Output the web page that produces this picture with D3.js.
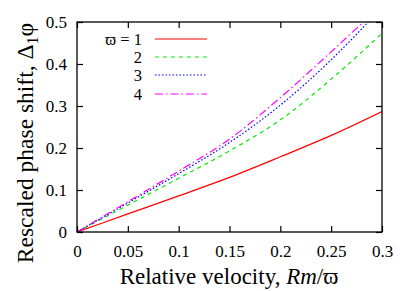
<!DOCTYPE html>
<html>
<head>
<meta charset="utf-8">
<script src="https://cdn.jsdelivr.net/npm/d3@7"></script>
<style>
  body { margin: 0; background: #fff; }
</style>
</head>
<body>
<svg class="svg" width="415" height="291"></svg>
<script>
// data
const velocity = [0, 0.05, 0.1, 0.15, 0.2, 0.25, 0.3];
const shift1 = [0, 0.043, 0.086, 0.130, 0.179, 0.230, 0.287];
const shift2 = [0, 0.064, 0.128, 0.193, 0.267, 0.364, 0.473];
const velocity3 = [0, 0.05, 0.1, 0.15, 0.2, 0.25, 0.2865];
const shift3 = [0, 0.069, 0.139, 0.213, 0.302, 0.410, 0.5];
const velocity4 = [0, 0.05, 0.1, 0.15, 0.2, 0.25, 0.2817];
const shift4 = [0, 0.072, 0.145, 0.221, 0.320, 0.429, 0.5];
const legendLabels = ["ϖ = 1", "2", "3", "4"];
const xTicks = [0, 0.05, 0.1, 0.15, 0.2, 0.25, 0.3];
const yTicks = [0, 0.1, 0.2, 0.3, 0.4, 0.5];

const FONT = "'Liberation Serif', 'Times New Roman', serif";

const svg = d3.select(".svg");
const mLeft = 77, mRight = 382, mTop = 22, mBottom = 232;

const x = d3.scaleLinear().domain([0, 0.3]).range([mLeft, mRight]);
const y = d3.scaleLinear().domain([0, 0.5]).range([mBottom, mTop]);

const series = [
  {xs: velocity, ys: shift1, color: "#ff0000", dash: null},
  {xs: velocity, ys: shift2, color: "#00ee00", dash: "4,4"},
  {xs: velocity3, ys: shift3, color: "#0000ff", dash: "1.5,2"},
  {xs: velocity4, ys: shift4, color: "#ff00ff", dash: "8,3,1.5,3"}
];

svg.append("clipPath").attr("id", "clip")
  .append("rect").attr("x", mLeft).attr("y", mTop).attr("width", mRight - mLeft).attr("height", mBottom - mTop);

const line = d3.line().x(d => x(d[0])).y(d => y(d[1])).curve(d3.curveMonotoneX);

series.forEach(s => {
  svg.append("path")
    .datum(s.xs.map((v, i) => [v, s.ys[i]]))
    .attr("d", line)
    .attr("fill", "none")
    .attr("stroke", s.color)
    .attr("stroke-width", 1.2)
    .attr("stroke-dasharray", s.dash)
    .attr("clip-path", "url(#clip)");
});

// axes, ticks inward and mirrored
const tickLen = 6;
const fmt = d => d === 0 ? "0" : String(d);

svg.append("g").attr("transform", `translate(0,${mBottom})`)
  .call(d3.axisBottom(x).tickValues(xTicks).tickSize(-tickLen).tickPadding(13).tickFormat(fmt));
svg.append("g").attr("transform", `translate(0,${mTop})`)
  .call(d3.axisTop(x).tickValues(xTicks).tickSize(-tickLen).tickFormat(""));
svg.append("g").attr("transform", `translate(${mLeft},0)`)
  .call(d3.axisLeft(y).tickValues(yTicks).tickSize(-tickLen).tickPadding(10).tickFormat(fmt));
svg.append("g").attr("transform", `translate(${mRight},0)`)
  .call(d3.axisRight(y).tickValues(yTicks).tickSize(-tickLen).tickFormat(""));

svg.selectAll(".domain").remove();
svg.selectAll("g").attr("font-family", FONT).attr("font-size", 17);
svg.selectAll(".tick line").attr("stroke", "#000").attr("stroke-width", 1.2);
svg.selectAll(".tick text").attr("fill", "#000");

svg.append("rect")
  .attr("x", mLeft).attr("y", mTop).attr("width", mRight - mLeft).attr("height", mBottom - mTop)
  .attr("fill", "none").attr("stroke", "#000").attr("stroke-width", 1.3);

// legend
const legY = [39, 57, 75, 94];
series.forEach((s, i) => {
  svg.append("text").text(legendLabels[i])
    .attr("x", 142).attr("y", legY[i] + 5.5)
    .attr("text-anchor", "end")
    .attr("font-family", FONT).attr("font-size", 16.5);
  svg.append("line")
    .attr("x1", 155).attr("x2", 207).attr("y1", legY[i]).attr("y2", legY[i])
    .attr("stroke", s.color).attr("stroke-width", 1.2)
    .attr("stroke-dasharray", s.dash);
});

// axis titles
const xt = svg.append("text").attr("x", 229).attr("y", 284)
  .attr("text-anchor", "middle").attr("font-family", FONT).attr("font-size", 23);
xt.append("tspan").text("Relative velocity, ");
xt.append("tspan").text("Rm").attr("font-style", "italic");
xt.append("tspan").text("/ϖ");

const yt = svg.append("text")
  .attr("transform", `translate(33,143) rotate(-90)`)
  .attr("text-anchor", "middle").attr("font-family", FONT).attr("font-size", 23.5);
yt.append("tspan").text("Rescaled phase shift, Δ");
yt.append("tspan").text("1").attr("font-size", 16).attr("dy", 5);
yt.append("tspan").text("φ").attr("dy", -5);
</script>
</body>
</html>
